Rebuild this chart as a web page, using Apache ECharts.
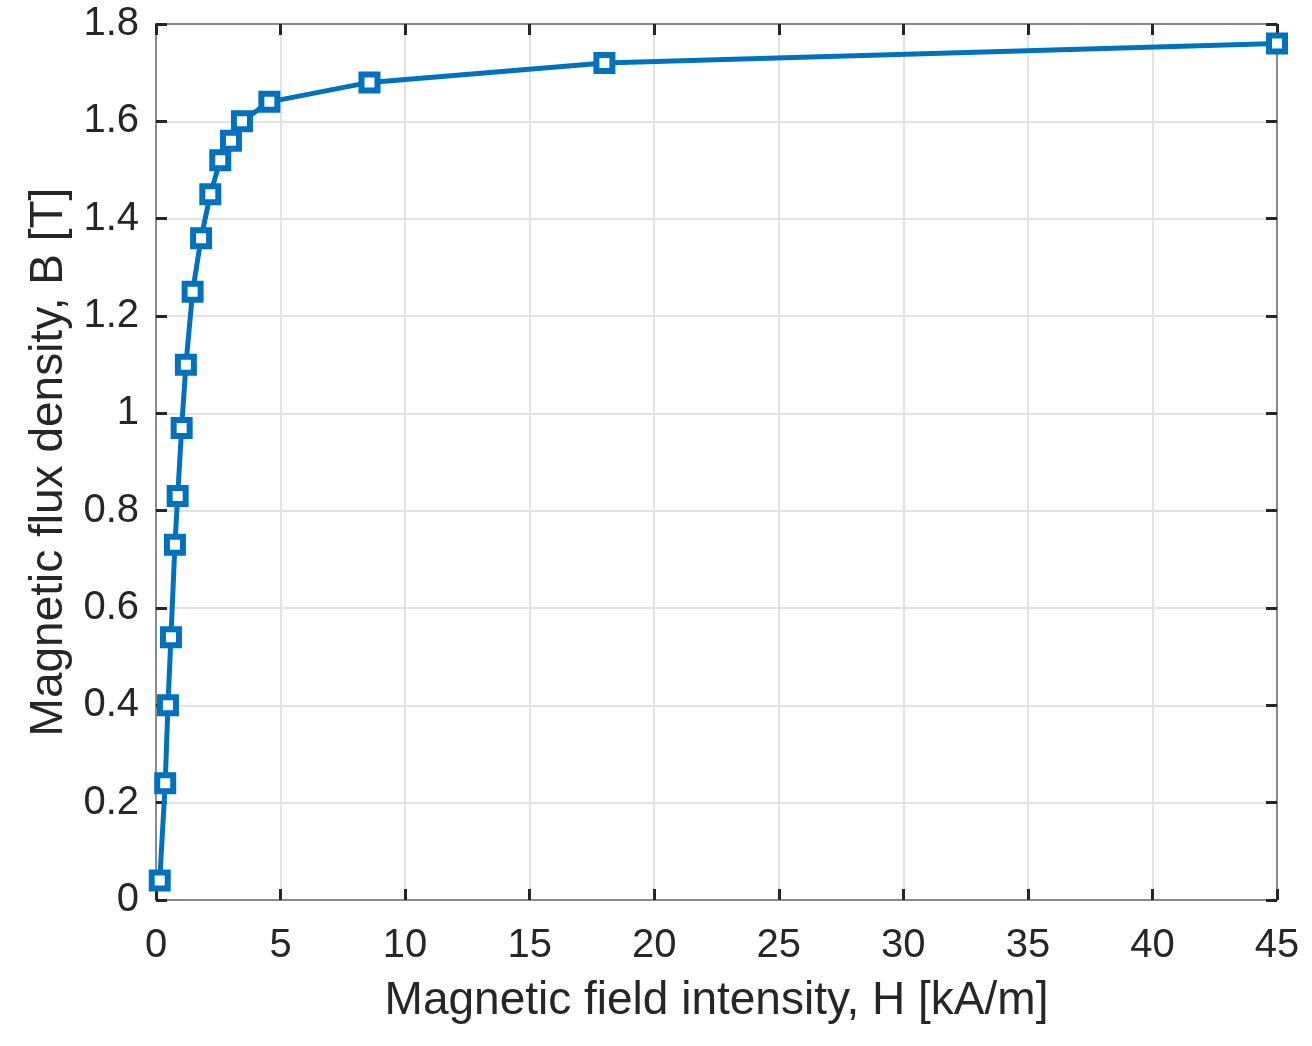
<!DOCTYPE html>
<html>
<head>
<meta charset="utf-8">
<script src="https://cdn.jsdelivr.net/npm/echarts@6/dist/echarts.min.js"></script>
<style>
html,body{margin:0;padding:0;background:#fff;}
#chart{width:1312px;height:1046px;}
</style>
</head>
<body>
<div id="chart"></div>
<script>
// Data: H [kA/m] and B [T]
var H = [0.15, 0.37, 0.48, 0.6, 0.76, 0.87, 1.03, 1.2, 1.47, 1.81, 2.18, 2.58, 3.01, 3.45, 4.55, 8.57, 18.0, 45.0];
var B = [0.04, 0.24, 0.40, 0.54, 0.73, 0.83, 0.97, 1.10, 1.25, 1.36, 1.45, 1.52, 1.56, 1.60, 1.64, 1.68, 1.72, 1.76];
var xTicks = [0, 5, 10, 15, 20, 25, 30, 35, 40, 45];
var yTicks = [0, 0.2, 0.4, 0.6, 0.8, 1, 1.2, 1.4, 1.6, 1.8];
var xName = 'Magnetic field intensity, H [kA/m]';
var yName = 'Magnetic flux density, B [T]';

var points = H.map(function (h, i) { return [h, B[i]]; });
var FONT = 'Liberation Sans';
var BLUE = '#0072BD';

var chart = echarts.init(document.getElementById('chart'));

function baseX(pos, showLabel) {
  return {
    type: 'value', position: pos, min: xTicks[0], max: xTicks[xTicks.length - 1], interval: 5,
    axisLine: { show: true, onZero: false, lineStyle: { color: '#8a8a8a', width: 2 } },
    axisTick: { show: true, inside: true, length: 11, lineStyle: { color: '#262626', width: 3 } },
    axisLabel: { show: showLabel, color: '#262626', fontFamily: FONT, fontSize: 40, margin: 26 },
    splitLine: { show: showLabel, lineStyle: { color: '#e3e3e3', width: 2 } }
  };
}
function baseY(pos, showLabel) {
  return {
    type: 'value', position: pos, min: yTicks[0], max: yTicks[yTicks.length - 1], interval: 0.2,
    axisLine: { show: true, onZero: false, lineStyle: { color: '#8a8a8a', width: 2 } },
    axisTick: { show: true, inside: true, length: 11, lineStyle: { color: '#262626', width: 3 } },
    axisLabel: { show: showLabel, color: '#262626', fontFamily: FONT, fontSize: 40, margin: 17,
      formatter: function (v) { return String(Math.round(v * 10) / 10); } },
    splitLine: { show: showLabel, lineStyle: { color: '#e3e3e3', width: 2 } }
  };
}

var xa = baseX('bottom', true);
xa.name = xName; xa.nameLocation = 'middle'; xa.nameGap = 78;
xa.nameTextStyle = { color: '#262626', fontFamily: FONT, fontSize: 46 };
var ya = baseY('left', true);
ya.name = yName; ya.nameLocation = 'middle'; ya.nameGap = 80;
ya.nameTextStyle = { color: '#262626', fontFamily: FONT, fontSize: 46 };

chart.setOption({
  backgroundColor: '#ffffff',
  animation: false,
  grid: { left: 156, right: 35, top: 24, bottom: 146, containLabel: false },
  xAxis: [xa, baseX('top', false)],
  yAxis: [ya, baseY('right', false)],
  series: [{
    type: 'line',
    xAxisIndex: 0, yAxisIndex: 0,
    data: points,
    symbol: 'rect',
    symbolSize: 16,
    showAllSymbol: true,
    lineStyle: { color: BLUE, width: 5 },
    itemStyle: { color: '#ffffff', borderColor: BLUE, borderWidth: 6 },
    z: 5
  }]
});
</script>
</body>
</html>
